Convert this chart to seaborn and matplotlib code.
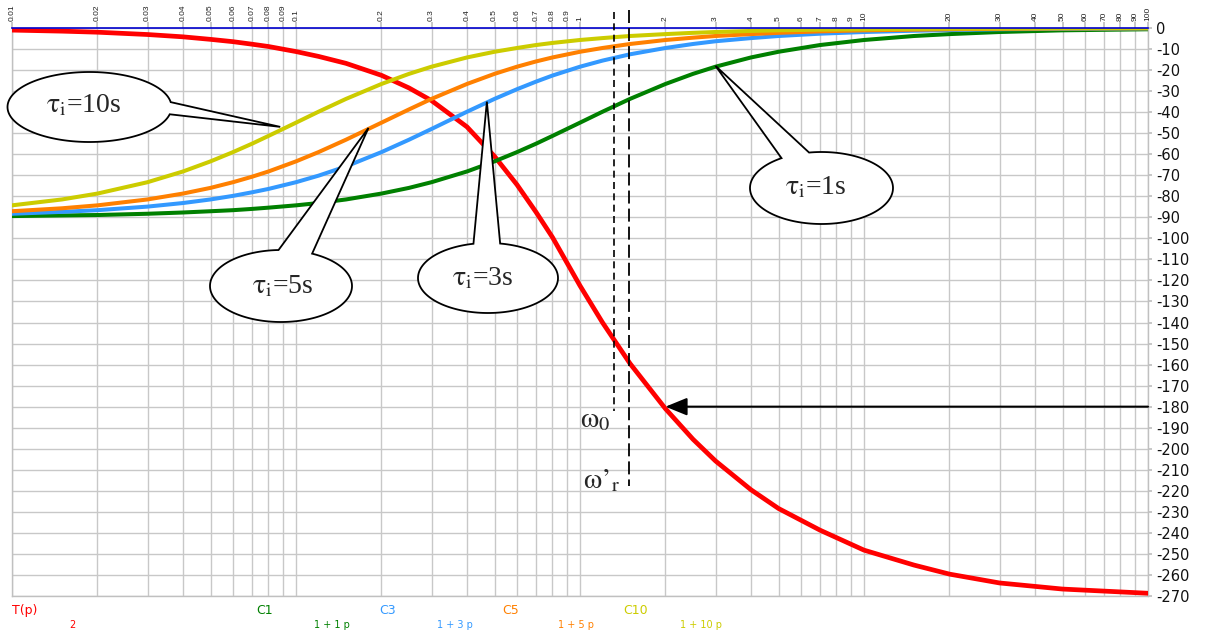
import numpy as np
import pandas as pd
import matplotlib
matplotlib.use("Agg")
import matplotlib.pyplot as plt
import seaborn as sns
from matplotlib.patches import Polygon
from matplotlib.ticker import NullLocator

# ---------------------------------------------------------------- data
omega = [0.01, 0.015, 0.02, 0.03, 0.04, 0.05, 0.06, 0.07, 0.08, 0.1, 0.12, 0.15,
         0.2, 0.25, 0.3, 0.4, 0.5, 0.6, 0.7, 0.8, 1.0, 1.2, 1.5, 2.0, 2.5, 3.0,
         4.0, 5.0, 7.0, 10.0, 15.0, 20.0, 30.0, 50.0, 100.0]

phase_T = [-1.0, -1.5, -2.0, -3.1, -4.2, -5.4, -6.5, -7.7, -8.8, -11.2, -13.5, -16.8,
           -22.5, -28.5, -34.5, -47.0, -61.0, -74.5, -87.5, -99.5, -122.5, -140.0,
           -159.5, -181.0, -195.5, -205.8, -219.5, -228.4, -238.7, -248.2, -255.3,
           -259.6, -263.8, -266.7, -268.7]

phase_C1 = [-89.4, -89.1, -88.9, -88.3, -87.7, -87.1, -86.6, -86.0, -85.4, -84.3,
            -83.2, -81.5, -78.7, -76.0, -73.3, -68.2, -63.4, -59.0, -55.0, -51.3,
            -45.0, -39.8, -33.7, -26.6, -21.8, -18.4, -14.0, -11.3, -8.1, -5.7,
            -3.8, -2.9, -1.9, -1.1, -0.6]

phase_C3 = [-88.3, -87.4, -86.6, -84.9, -83.2, -81.5, -79.8, -78.1, -76.5, -73.3,
            -70.2, -65.8, -59.0, -53.1, -48.0, -39.8, -33.7, -29.1, -25.5, -22.6,
            -18.4, -15.5, -12.5, -9.5, -7.6, -6.3, -4.8, -3.8, -2.7, -1.9, -1.3,
            -1.0, -0.6, -0.4, -0.2]

phase_C5 = [-87.1, -85.7, -84.3, -81.5, -78.7, -76.0, -73.3, -70.7, -68.2, -63.4,
            -59.0, -53.1, -45.0, -38.7, -33.7, -26.6, -21.8, -18.4, -15.9, -14.0,
            -11.3, -9.5, -7.6, -5.7, -4.6, -3.8, -2.9, -2.3, -1.6, -1.1, -0.8,
            -0.6, -0.4, -0.2, -0.1]

phase_C10 = [-84.3, -81.5, -78.7, -73.3, -68.2, -63.4, -59.0, -55.0, -51.3, -45.0,
             -39.8, -33.7, -26.6, -21.8, -18.4, -14.0, -11.3, -9.5, -8.1, -7.1,
             -5.7, -4.8, -3.8, -2.9, -2.3, -1.9, -1.4, -1.1, -0.8, -0.6, -0.4,
             -0.3, -0.2, -0.1, -0.1]

series_names = ["T(p)", "C1", "C3", "C5", "C10"]
series_colors = ["#ff0000", "#008000", "#3399ff", "#ff8000", "#cccc00"]
series_widths = [3.4, 2.9, 2.9, 2.9, 2.9]

x_tick_labels = ["0.01", "0.02", "0.03", "0.04", "0.05", "0.06", "0.07", "0.08", "0.09",
                 "0.1", "0.2", "0.3", "0.4", "0.5", "0.6", "0.7", "0.8", "0.9",
                 "1", "2", "3", "4", "5", "6", "7", "8", "9",
                 "10", "20", "30", "40", "50", "60", "70", "80", "90", "100"]
y_ticks = list(range(-270, 1, 10))

omega_0 = 1.318          # short-dash marker
omega_r = 1.488          # long-dash marker
phase_margin_ref = -180  # arrow level

bubbles = [
    # label, tip (omega, phase), ellipse centre px, semi-axes px, base angles, text centre px
    ("10s", (0.088, -47.0), (89.5, 107.0), (82.0, 35.0), (-8.0, 12.0), (84.0, 106.0)),
    ("5s", (0.18, -47.5), (281.0, 286.0), (71.0, 36.0), (-92.0, -64.0), (283.0, 287.0)),
    ("3s", (0.47, -35.0), (488.0, 278.0), (70.0, 35.0), (-102.0, -80.0), (483.0, 279.0)),
    ("1s", (3.0, -18.0), (821.5, 188.0), (71.5, 36.0), (-124.0, -100.0), (816.0, 188.0)),
]

# ---------------------------------------------------------------- style
sns.set_theme(style="white")
plt.rcParams["font.family"] = ["Liberation Sans", "DejaVu Sans"]
plt.rcParams["mathtext.fontset"] = "stix"
plt.rcParams["axes.unicode_minus"] = False

W, H = 1209, 630
fig = plt.figure(figsize=(W / 100, H / 100), dpi=100)
fig.patch.set_facecolor("white")
ax = fig.add_axes([12 / W, 1 - 596 / H, (1148 - 12) / W, (596 - 28) / H])
ax.set_facecolor("white")

# ---------------------------------------------------------------- curves
phases = [phase_T, phase_C1, phase_C3, phase_C5, phase_C10]
for name, vals, col, lw in zip(series_names, phases, series_colors, series_widths):
    df = pd.DataFrame({"omega": omega, "phase": vals})
    sns.lineplot(data=df, x="omega", y="phase", color=col, linewidth=lw,
                 ax=ax, legend=False, sort=False, estimator=None, zorder=3)
for line in ax.get_lines():
    line.set_solid_joinstyle("round")
    line.set_solid_capstyle("round")

ax.set_xscale("log")
ax.set_xlim(0.01, 100)
ax.set_ylim(-270, 0)
ax.set_xlabel("")
ax.set_ylabel("")

# ---------------------------------------------------------------- axes / grid
ax.set_xticks([float(s) for s in x_tick_labels], x_tick_labels)
ax.xaxis.set_minor_locator(NullLocator())
ax.xaxis.tick_top()
ax.tick_params(axis="x", top=True, bottom=False, labeltop=True, labelbottom=False,
               labelrotation=90, labelsize=6, length=4, color="#c0c0c0", pad=1,
               labelcolor="#222222")
ax.set_yticks(y_ticks, [str(v) for v in y_ticks])
ax.yaxis.tick_right()
ax.tick_params(axis="y", right=True, left=False, labelright=True, labelleft=False,
               labelsize=10.5, length=3, color="#c0c0c0", pad=3, labelcolor="#111111")
for lab in ax.get_yticklabels():
    lab.set_fontfamily("DejaVu Sans")
ax.grid(True, which="major", color="#c8c8c8", linewidth=1.0)
ax.set_axisbelow(True)
for side in ["left", "bottom", "right"]:
    ax.spines[side].set_color("#c0c0c0")
    ax.spines[side].set_linewidth(1.0)
ax.spines["top"].set_color("#0000cc")
ax.spines["top"].set_linewidth(1.2)
ax.spines["top"].set_zorder(4)

# ---------------------------------------------------------------- markers
ax.plot([omega_0, omega_0], [7.5, -182], color="black", lw=1.2,
        linestyle=(0, (4.2, 2.6)), clip_on=False, zorder=5)
ax.plot([omega_r, omega_r], [8.5, -217.5], color="black", lw=1.3,
        linestyle=(0, (7.2, 2.8)), clip_on=False, zorder=5)
ax.text(1.275, -189.6, r"$\mathrm{ω}_0$", fontsize=21, ha="right",
        va="baseline", zorder=6)
ax.text(1.39, -218.6, r"$\mathrm{ω’}_\mathrm{r}$", fontsize=21,
        ha="right", va="baseline", zorder=6)

ax.annotate("", xy=(2.0, phase_margin_ref), xytext=(100, phase_margin_ref),
            arrowprops=dict(arrowstyle="-|>,head_length=1.1,head_width=0.45",
                            color="black", lw=1.5, shrinkA=0, shrinkB=0),
            zorder=6)

# ---------------------------------------------------------------- callouts
fig.canvas.draw()


def px_to_fig(pts):
    pts = np.asarray(pts, dtype=float)
    return np.column_stack([pts[:, 0] / W, 1 - pts[:, 1] / H])


for label, tip, (cx, cy), (a, b), (t1, t2), (tx, ty) in bubbles:
    dx, dy = ax.transData.transform(tip)
    tip_px = (dx, H - dy)
    th = np.radians(np.linspace(t2, t1 + 360, 160))
    outline = [(cx + a * np.cos(t), cy + b * np.sin(t)) for t in th]
    outline.append(tip_px)
    poly = Polygon(px_to_fig(outline), closed=True, facecolor="white",
                   edgecolor="black", linewidth=1.3, transform=fig.transFigure,
                   clip_on=False, zorder=7)
    ax.add_patch(poly)
    ax.text(tx / W, 1 - ty / H, r"$\mathrm{τ}_\mathrm{i}$=" + label,
            transform=fig.transFigure, fontsize=20, family="Liberation Serif",
            ha="center", va="center", zorder=8)

# ---------------------------------------------------------------- formula strip
row1 = [("T(p)", 12), ("C1", 256), ("C3", 379), ("C5", 502), ("C10", 623)]
row2 = [("2", 69), ("1 + 1 p", 314), ("1 + 3 p", 437), ("1 + 5 p", 558), ("1 + 10 p", 680)]
for (txt, x), col in zip(row1, series_colors):
    fig.text(x / W, 1 - 610.5 / H, txt, color=col, fontsize=9, family="DejaVu Sans",
             ha="left", va="center")
for (txt, x), col in zip(row2, series_colors):
    fig.text(x / W, 1 - 619.5 / H, txt, color=col, fontsize=7, family="DejaVu Sans",
             ha="left", va="top")

fig.savefig("out.png", dpi=100)
